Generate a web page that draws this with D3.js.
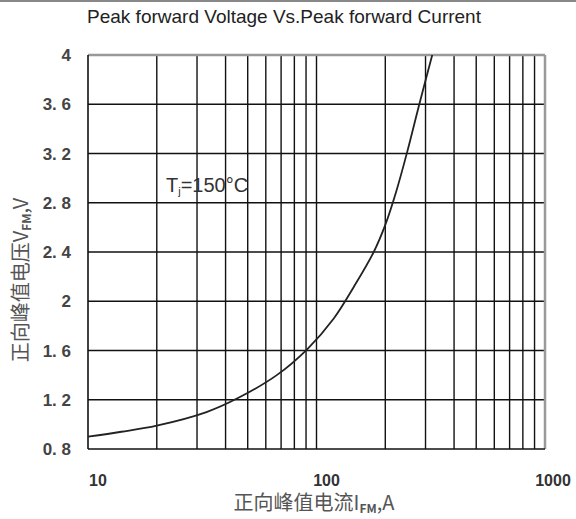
<!DOCTYPE html>
<html>
<head>
<meta charset="utf-8">
<script src="https://cdn.jsdelivr.net/npm/d3@7"></script>
<style>
  body { margin: 0; background: #fff; }
  svg { display: block; }
</style>
</head>
<body>
<svg id="chart"></svg>
<script>
// forward current (A) and peak forward voltage (V), Tj = 150°C
const current = [10, 14, 20, 33, 46, 67, 91, 119, 146, 178, 200, 224, 250, 280, 321];
const voltage = [0.90, 0.94, 0.99, 1.10, 1.22, 1.40, 1.61, 1.86, 2.12, 2.40, 2.62, 2.90, 3.22, 3.58, 4.00];

const yTicks = [0.8, 1.2, 1.6, 2.0, 2.4, 2.8, 3.2, 3.6, 4.0];
const yTickLabels = ["0. 8", "1. 2", "1. 6", "2", "2. 4", "2. 8", "3. 2", "3. 6", "4"];
const xTicks = [10, 100, 1000];
const xTickLabels = ["10", "100", "1000"];

const width = 576, height = 519;
const margin = { top: 55, right: 31, bottom: 70, left: 88 };
const innerWidth = width - margin.left - margin.right;
const innerHeight = height - margin.top - margin.bottom;

const svgRoot = d3.select("#chart").attr("width", width).attr("height", height);

// thin frame line along the top of the picture
svgRoot.append("line")
    .attr("x1", 0).attr("x2", width).attr("y1", 1).attr("y2", 1)
    .attr("stroke", "#888").attr("stroke-width", 2);

svgRoot.append("text")
    .attr("x", 284).attr("y", 23)
    .attr("text-anchor", "middle")
    .style("font-family", "'Liberation Sans', Arial, sans-serif")
    .style("font-size", "19px")
    .attr("fill", "#222")
    .text("Peak forward Voltage Vs.Peak forward Current");

const svg = svgRoot.append("g")
    .attr("transform", "translate(" + margin.left + "," + margin.top + ")");

const x = d3.scaleLog().domain([10, 1000]).range([0, innerWidth]);
const y = d3.scaleLinear().domain([0.8, 4]).range([innerHeight, 0]);

// vertical grid: every log minor step
const xGrid = [];
[10, 100].forEach(dec => { for (let k = 2; k <= 9; k++) xGrid.push(dec * k); });
xGrid.push(100);

svg.append("g")
    .selectAll("line")
    .data(xGrid)
    .enter().append("line")
    .attr("x1", d => x(d)).attr("x2", d => x(d))
    .attr("y1", 0).attr("y2", innerHeight)
    .attr("stroke", "#111").attr("stroke-width", 1.4);

// horizontal grid
svg.append("g")
    .selectAll("line")
    .data(yTicks.slice(1, -1))
    .enter().append("line")
    .attr("x1", 0).attr("x2", innerWidth)
    .attr("y1", d => y(d)).attr("y2", d => y(d))
    .attr("stroke", "#111").attr("stroke-width", 1.4);

// frame: top and right grey, left and bottom black
svg.append("line").attr("x1", 0).attr("x2", innerWidth).attr("y1", 0).attr("y2", 0)
    .attr("stroke", "#999").attr("stroke-width", 2.5);
svg.append("line").attr("x1", innerWidth).attr("x2", innerWidth).attr("y1", 0).attr("y2", innerHeight)
    .attr("stroke", "#999").attr("stroke-width", 2.5);
svg.append("line").attr("x1", 0).attr("x2", 0).attr("y1", 0).attr("y2", innerHeight)
    .attr("stroke", "#111").attr("stroke-width", 1.6);
svg.append("line").attr("x1", 0).attr("x2", innerWidth).attr("y1", innerHeight).attr("y2", innerHeight)
    .attr("stroke", "#111").attr("stroke-width", 1.6);

// y tick labels
svg.append("g")
    .selectAll("text")
    .data(yTicks)
    .enter().append("text")
    .attr("x", -17)
    .attr("y", d => y(d))
    .attr("dy", "0.36em")
    .attr("text-anchor", "end")
    .style("font-family", "'Liberation Sans', Arial, sans-serif")
    .style("font-size", "17px")
    .style("font-weight", "bold")
    .attr("fill", "#444")
    .text((d, i) => yTickLabels[i]);

// x tick labels
svg.append("g")
    .selectAll("text")
    .data(xTicks)
    .enter().append("text")
    .attr("x", (d, i) => x(d) + (i === 2 ? 8 : 10))
    .attr("y", innerHeight + 37)
    .attr("text-anchor", "middle")
    .style("font-family", "'Liberation Sans', Arial, sans-serif")
    .style("font-size", "16px")
    .style("font-weight", "bold")
    .attr("fill", "#333")
    .text((d, i) => xTickLabels[i]);

// the curve
svg.append("clipPath").attr("id", "plotClip")
    .append("rect").attr("width", innerWidth).attr("height", innerHeight);

const line = d3.line()
    .x((d, i) => x(current[i]))
    .y((d, i) => y(voltage[i]))
    .curve(d3.curveCatmullRom);

svg.append("path")
    .datum(voltage)
    .attr("clip-path", "url(#plotClip)")
    .attr("fill", "none")
    .attr("stroke", "#222")
    .attr("stroke-width", 1.8)
    .attr("d", line);

// annotation
const note = svgRoot.append("text")
    .attr("x", 166).attr("y", 192)
    .style("font-family", "'Liberation Sans', Arial, sans-serif")
    .style("font-size", "20px")
    .attr("fill", "#333");
note.append("tspan").text("T");
note.append("tspan").attr("font-size", "11px").attr("dy", 3).text("j");
note.append("tspan").attr("dy", -3).text("=150°C");

// axis titles
const xTitle = svgRoot.append("text")
    .attr("x", 314).attr("y", 510)
    .attr("text-anchor", "middle")
    .style("font-family", "'Noto Sans CJK SC', sans-serif")
    .style("font-size", "20px")
    .attr("fill", "#555");
xTitle.append("tspan").text("正向峰值电流I");
xTitle.append("tspan").attr("font-size", "12px").attr("dy", 3).style("font-weight", "bold").text("FM");
xTitle.append("tspan").attr("dy", -3).text(",A");

const yTitle = svgRoot.append("text")
    .attr("transform", "translate(28,280) rotate(-90)")
    .attr("text-anchor", "middle")
    .style("font-family", "'Noto Sans CJK SC', sans-serif")
    .style("font-size", "20px")
    .attr("fill", "#555");
yTitle.append("tspan").text("正向峰值电压V");
yTitle.append("tspan").attr("font-size", "12px").attr("dy", 3).style("font-weight", "bold").text("FM");
yTitle.append("tspan").attr("dy", -3).text(",V");
</script>
</body>
</html>
